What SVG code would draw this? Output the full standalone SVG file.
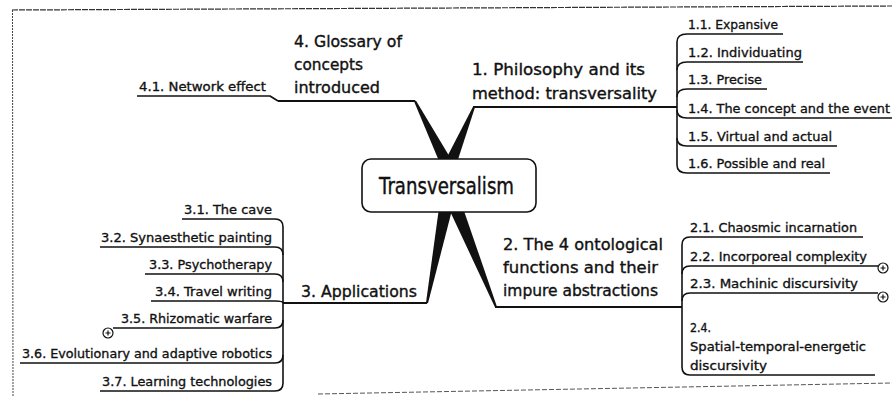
<svg xmlns="http://www.w3.org/2000/svg" width="892" height="397" viewBox="0 0 892 397">
<style>
text{font-family:"DejaVu Sans","Liberation Sans",sans-serif;fill:#111;stroke:#111;stroke-width:0.35}
.c{font-size:13px}
.m{font-size:16.5px;stroke-width:0.4}
.t{font-size:23px;stroke-width:0.45}
.ul{fill:none;stroke:#111;stroke-width:1.6;stroke-linejoin:round}
.mu{fill:none;stroke:#111;stroke-width:2}
.w{fill:#111;stroke:none}
.pl{fill:#fff;stroke:#111;stroke-width:1.2}
</style>
<rect width="892" height="397" fill="#fff"/>
<g id="frame" fill="none">
<line x1="12" y1="10" x2="892" y2="6" stroke="#333" stroke-width="1.2" stroke-dasharray="6 1"/>
<line x1="12.5" y1="10" x2="13" y2="397" stroke="#444" stroke-width="1" stroke-dasharray="2 1"/>
<line x1="318" y1="394" x2="892" y2="383" stroke="#555" stroke-width="1" stroke-dasharray="5 2"/>
</g>
<g id="connectors">
<polygon class="w" points="414.1,101.5 415.9,100.5 465.1,182.4 450.9,189.6"/>
<polygon class="w" points="473.1,106.6 474.9,107.4 448.4,189.1 433.6,182.9"/>
<polygon class="w" points="426,302.8 428,303.2 457.8,187.5 442.2,184.5"/>
<polygon class="w" points="495.1,307.4 496.9,306.6 454.4,183 439.6,189"/>
<path class="mu" d="M278,101 L415,101"/>
<path class="mu" d="M473,107 L677,107"/>
<path class="mu" d="M495,307 L682,307"/>
<path class="mu" d="M283,303 L427,303"/>
<path class="ul" d="M137,96 L270,96 L278,101"/>
<path class="ul" d="M677,42 L677,165"/>
<path class="ul" d="M677,42 Q677,34 687,34 L783,34"/>
<path class="ul" d="M677,70 Q677,62 687,62 L803,62"/>
<path class="ul" d="M677,97 Q677,89 687,89 L767,89"/>
<path class="ul" d="M677,110 Q677,118 687,118 L892,118"/>
<path class="ul" d="M677,138 Q677,146 687,146 L837,146"/>
<path class="ul" d="M677,165 Q677,173 687,173 L830,173"/>
<path class="ul" d="M682,245 L682,367"/>
<path class="ul" d="M682,245 Q682,237 690,237 L863,237"/>
<path class="ul" d="M682,274 Q682,266 690,266 L878,266"/>
<path class="ul" d="M682,301 Q682,293 690,293 L878,293"/>
<path class="ul" d="M682,367 Q682,375 690,375 L875,375"/>
<path class="ul" d="M283,227 L283,383"/>
<path class="ul" d="M182,219 L275,219 Q283,219 283,227"/>
<path class="ul" d="M100,247 L275,247 Q283,247 283,255"/>
<path class="ul" d="M145,274 L275,274 Q283,274 283,282"/>
<path class="ul" d="M151,301 L275,301 Q283,301 283,303"/>
<path class="ul" d="M113,328 L275,328 Q283,328 283,320"/>
<path class="ul" d="M20,363 L275,363 Q283,363 283,355"/>
<path class="ul" d="M100,391 L275,391 Q283,391 283,383"/>
</g>
<g id="center">
<rect x="362" y="159" width="174" height="53" rx="9" fill="#fff" stroke="#111" stroke-width="1.6"/>
<text class="t" x="379" y="194" textLength="135" lengthAdjust="spacingAndGlyphs">Transversalism</text>
</g>
<g id="n4">
<text class="m" x="294" y="47" textLength="108" lengthAdjust="spacingAndGlyphs">4. Glossary of</text>
<text class="m" x="294" y="70" textLength="69" lengthAdjust="spacingAndGlyphs">concepts</text>
<text class="m" x="294" y="93" textLength="86" lengthAdjust="spacingAndGlyphs">introduced</text>
</g>
<g id="n4-1"><text class="c" x="139" y="91" textLength="127" lengthAdjust="spacingAndGlyphs">4.1. Network effect</text></g>
<g id="n1">
<text class="m" x="472" y="75" textLength="173" lengthAdjust="spacingAndGlyphs">1. Philosophy and its</text>
<text class="m" x="472" y="99" textLength="185" lengthAdjust="spacingAndGlyphs">method: transversality</text>
</g>
<g id="n1-1"><text class="c" x="688" y="29" textLength="90" lengthAdjust="spacingAndGlyphs">1.1. Expansive</text></g>
<g id="n1-2"><text class="c" x="688" y="57" textLength="114" lengthAdjust="spacingAndGlyphs">1.2. Individuating</text></g>
<g id="n1-3"><text class="c" x="688" y="84" textLength="74" lengthAdjust="spacingAndGlyphs">1.3. Precise</text></g>
<g id="n1-4"><text class="c" x="688" y="113" textLength="202" lengthAdjust="spacingAndGlyphs">1.4. The concept and the event</text></g>
<g id="n1-5"><text class="c" x="688" y="141" textLength="144" lengthAdjust="spacingAndGlyphs">1.5. Virtual and actual</text></g>
<g id="n1-6"><text class="c" x="688" y="168" textLength="137" lengthAdjust="spacingAndGlyphs">1.6. Possible and real</text></g>
<g id="n2">
<text class="m" x="503" y="250" textLength="160" lengthAdjust="spacingAndGlyphs">2. The 4 ontological</text>
<text class="m" x="503" y="273" textLength="155" lengthAdjust="spacingAndGlyphs">functions and their</text>
<text class="m" x="503" y="296" textLength="155" lengthAdjust="spacingAndGlyphs">impure abstractions</text>
</g>
<g id="n2-1"><text class="c" x="690" y="232" textLength="167" lengthAdjust="spacingAndGlyphs">2.1. Chaosmic incarnation</text></g>
<g id="n2-2"><text class="c" x="690" y="261" textLength="177" lengthAdjust="spacingAndGlyphs">2.2. Incorporeal complexity</text>
<circle class="pl" cx="883" cy="268" r="5"/><path d="M880.5,268 H885.5 M883,265.5 V270.5" stroke="#111" stroke-width="1.2"/></g>
<g id="n2-3"><text class="c" x="690" y="288" textLength="168" lengthAdjust="spacingAndGlyphs">2.3. Machinic discursivity</text>
<circle class="pl" cx="883" cy="297" r="5"/><path d="M880.5,297 H885.5 M883,294.5 V299.5" stroke="#111" stroke-width="1.2"/></g>
<g id="n2-4">
<text class="c" x="690" y="332" textLength="21" lengthAdjust="spacingAndGlyphs">2.4.</text>
<text class="c" x="690" y="351" textLength="176" lengthAdjust="spacingAndGlyphs">Spatial-temporal-energetic</text>
<text class="c" x="690" y="370" textLength="77" lengthAdjust="spacingAndGlyphs">discursivity</text>
</g>
<g id="n3"><text class="m" x="301" y="297" textLength="116" lengthAdjust="spacingAndGlyphs">3. Applications</text></g>
<g id="n3-1"><text class="c" x="272" y="214" text-anchor="end" textLength="88" lengthAdjust="spacingAndGlyphs">3.1. The cave</text></g>
<g id="n3-2"><text class="c" x="272" y="242" text-anchor="end" textLength="171" lengthAdjust="spacingAndGlyphs">3.2. Synaesthetic painting</text></g>
<g id="n3-3"><text class="c" x="272" y="269" text-anchor="end" textLength="123" lengthAdjust="spacingAndGlyphs">3.3. Psychotherapy</text></g>
<g id="n3-4"><text class="c" x="272" y="296" text-anchor="end" textLength="117" lengthAdjust="spacingAndGlyphs">3.4. Travel writing</text></g>
<g id="n3-5"><text class="c" x="272" y="323" text-anchor="end" textLength="151" lengthAdjust="spacingAndGlyphs">3.5. Rhizomatic warfare</text>
<circle class="pl" cx="108" cy="333" r="5"/><path d="M105.5,333 H110.5 M108,330.5 V335.5" stroke="#111" stroke-width="1.2"/></g>
<g id="n3-6"><text class="c" x="272" y="358" text-anchor="end" textLength="250" lengthAdjust="spacingAndGlyphs">3.6. Evolutionary and adaptive robotics</text></g>
<g id="n3-7"><text class="c" x="272" y="386" text-anchor="end" textLength="170" lengthAdjust="spacingAndGlyphs">3.7. Learning technologies</text></g>
</svg>
